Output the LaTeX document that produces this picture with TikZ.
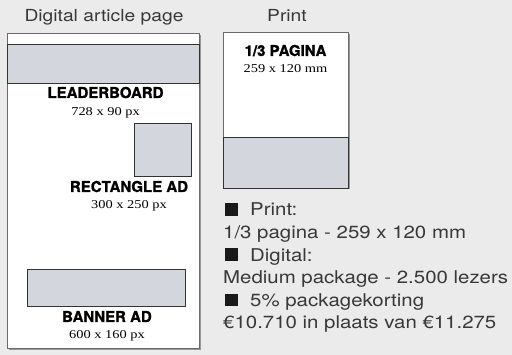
\documentclass[tikz,border=0pt]{standalone}
\usepackage{fontspec}
\setmainfont{TeX Gyre Heros}[BoldFeatures={FakeBold=1.2}]
\newfontfamily\lightfont[FakeStretch=1.16]{TeX Gyre Heros}
\newfontfamily\dimfont[FakeStretch=1.2]{Liberation Serif}
\usetikzlibrary{shadows}
\definecolor{bg}{HTML}{EBEBEB}
\definecolor{adgray}{HTML}{D3D7DD}
\definecolor{frame}{HTML}{6A6A6A}
\definecolor{txt}{HTML}{383838}

\begin{document}
\begin{tikzpicture}[x=1pt,y=-1pt,
  page/.style={draw=frame,line width=1pt,fill=white,inner sep=0pt,
    drop shadow={shadow xshift=1.5pt,shadow yshift=-1.5pt,fill=black,opacity=.35}},
  ad/.style={draw=black!80,line width=.8pt,fill=adgray,inner sep=0pt},
  adname/.style={font=\bfseries\fontsize{15}{15}\selectfont,anchor=base,inner sep=0pt},
  adsize/.style={font=\dimfont\fontsize{12}{12}\selectfont,anchor=base,inner sep=0pt},
  head/.style={font=\lightfont\fontsize{16.6}{16}\selectfont,text=txt,anchor=base,inner sep=0pt},
  info/.style={font=\lightfont\fontsize{17.6}{18}\selectfont,text=txt,anchor=base west,inner sep=0pt},
  sq/.style={fill=black!90,inner sep=0pt,minimum width=13pt,minimum height=12.5pt}]
\fill[bg] (0,0) rectangle (512,355);
\useasboundingbox (0,0) rectangle (512,355);

% digital article page
\node[head] (dtitle) at (104,22) {Digital article page};
\node[page,minimum width=192pt,minimum height=315pt] (dpage) at (103,191.5) {};
\node[ad,minimum width=192pt,minimum height=39pt] (leader) at (103,63.5) {};
\node[adname] (leadername) at (105.5,98) {LEADERBOARD};
\node[adsize] (leadersize) at (105.5,115.5) {728 x 90 px};
\node[ad,minimum width=57pt,minimum height=53pt] (rect) at (162.5,149.5) {};
\node[adname] (rectname) at (129,192) {RECTANGLE AD};
\node[adsize] (rectsize) at (129,209) {300 x 250 px};
\node[ad,minimum width=158pt,minimum height=37pt] (banner) at (106,287.5) {};
\node[adname] (bannername) at (107,322) {BANNER AD};
\node[adsize] (bannersize) at (107,339) {600 x 160 px};

% print page
\node[head] (ptitle) at (287,22) {Print};
\node[page,minimum width=125pt,minimum height=155pt] (ppage) at (285.5,110.5) {};
\node[ad,minimum width=125pt,minimum height=51pt] (third) at (285.5,162.5) {};
\node[adname] (thirdname) at (285.5,56) {1/3 PAGINA};
\node[adsize] (thirdsize) at (285.5,73) {259 x 120 mm};

% package details
\node[sq] (sq1) at (231.5,209.5) {};
\node[info] (l1) at (250,216) {Print:};
\node[info] (l2) at (223,238.6) {1/3 pagina - 259 x 120 mm};
\node[sq] (sq2) at (231.5,254.7) {};
\node[info] (l3) at (250,261.2) {Digital:};
\node[info] (l4) at (223,283.8) {Medium package - 2.500 lezers};
\node[sq] (sq3) at (231.5,299.9) {};
\node[info] (l5) at (250,306.4) {5\% packagekorting};
\node[info] (l6) at (223,329) {€10.710 in plaats van €11.275};
\end{tikzpicture}
\end{document}
